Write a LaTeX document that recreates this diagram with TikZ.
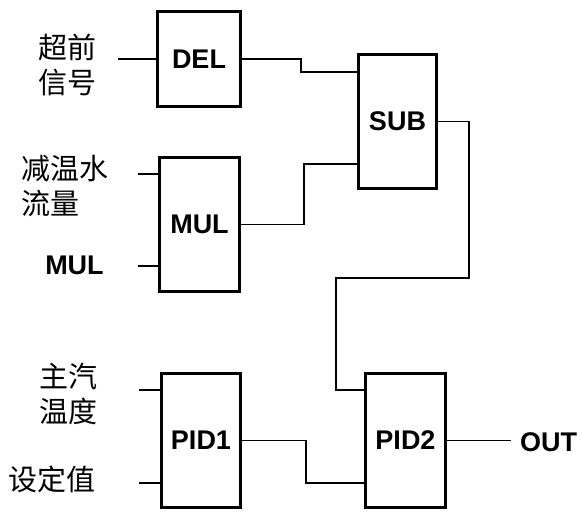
\documentclass[tikz,border=0pt]{standalone}
\usepackage{fontspec}
\setmainfont{Liberation Sans}
\newfontfamily\cjk{Noto Sans CJK SC}
\begin{document}
\begin{tikzpicture}[x=1pt, y=-1pt,
  block/.style={draw, line width=3pt, minimum width=80pt, minimum height=134pt, inner sep=0pt, font=\fontsize{27}{32}\selectfont\bfseries},
  sig/.style={font=\cjk\fontsize{29}{35}\selectfont, align=left, inner sep=0pt},
  tag/.style={font=\fontsize{27}{32}\selectfont\bfseries, inner sep=0pt},
  wire/.style={line width=1.3pt}]
  \useasboundingbox (0,0) rectangle (582,512);

  \node (del) at (199,59) [block, minimum width=83pt, minimum height=95pt] {DEL};
  \node (sub) at (397.5,121.5) [block, minimum width=78pt] {SUB};
  \node (mul) at (199.5,224.5) [block] {MUL};
  \node (pid1) at (201,440.5) [block, minimum width=79pt] {PID1};
  \node (pid2) at (405.5,440.5) [block] {PID2};

  \node (adv) at (67.5,64.5) [sig] {超前\\信号};
  \node (flow) at (65,186) [sig] {减温水\\流量};
  \node (mulin) at (74.5,265) [tag] {MUL};
  \node (temp) at (68,394) [sig] {主汽\\温度};
  \node (setp) at (52.5,479) [sig] {设定值};
  \node (out) at (520,442) [tag, anchor=west] {OUT};

  \coordinate (d1) at (118,59);
  \coordinate (m1) at (138,174);
  \coordinate (m2) at (138,266);
  \coordinate (p1) at (139,390);
  \coordinate (p2) at (139,483);
  \coordinate (bend) at (336,278);

  \draw[wire] (d1) -- (d1 -| del.west);
  \draw[wire] (m1) -- (m1 -| mul.west);
  \draw[wire] (m2) -- (m2 -| mul.west);
  \draw[wire] (p1) -- (p1 -| pid1.west);
  \draw[wire] (p2) -- (p2 -| pid1.west);

  \draw[wire] (del.east) -- ++(59,0) |- ([yshift=49.5pt]sub.west);
  \draw[wire] (mul.east) -- ++(63,0) |- ([yshift=-42.5pt]sub.west);
  \draw[wire] (sub.east) -- ++(31,0) |- (bend) |- ([yshift=50.5pt]pid2.west);
  \draw[wire] (pid1.east) -- ++(64,0) |- ([yshift=-42.5pt]pid2.west);
  \draw[wire, shorten >=9pt] (pid2.east) -- (pid2.east -| out.west);
\end{tikzpicture}
\end{document}
